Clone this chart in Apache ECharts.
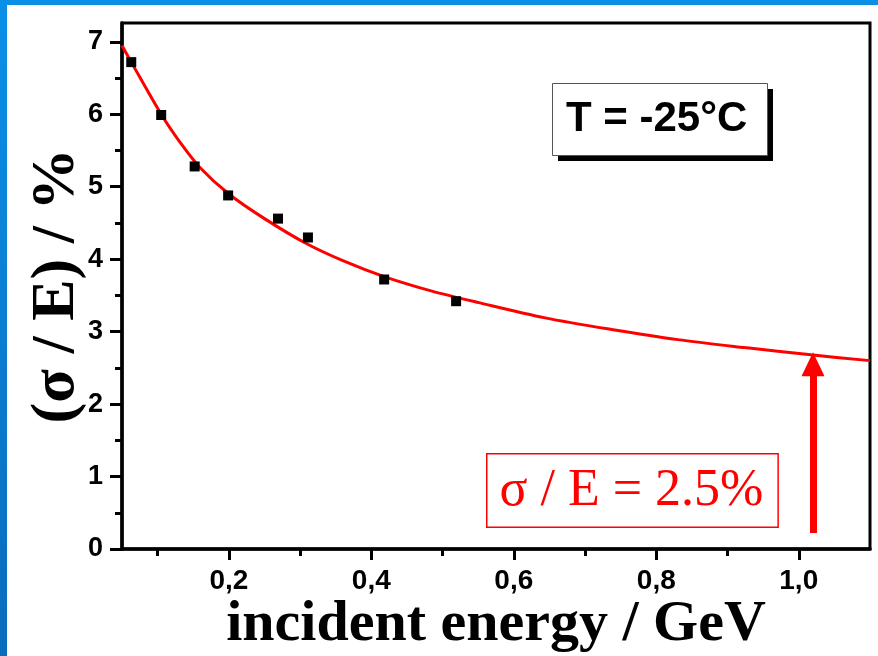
<!DOCTYPE html>
<html>
<head>
<meta charset="utf-8">
<title>Energy resolution vs incident energy</title>
<script src="https://cdn.jsdelivr.net/npm/echarts@6/dist/echarts.min.js"></script>
<style>
  html, body { margin: 0; padding: 0; background: #ffffff; }
  #chart { width: 878px; height: 656px; }
</style>
</head>
<body>
<div id="chart"></div>
<script>
// Measured resolution points (incident energy in GeV, sigma/E in %)
const energy = [0.063, 0.105, 0.152, 0.199, 0.269, 0.311, 0.418, 0.519];
const resolution = [6.72, 5.99, 5.28, 4.88, 4.56, 4.30, 3.72, 3.42];

// Fitted resolution curve, sampled along the energy axis
const fitEnergy = [0.05, 0.063, 0.105, 0.131, 0.159, 0.2, 0.25, 0.308, 0.36, 0.418, 0.485, 0.551, 0.644, 0.737, 0.83, 0.924, 1.017, 1.1];
const fitResolution = [6.95, 6.72, 6.00, 5.62, 5.27, 4.90, 4.56, 4.22, 3.98, 3.76, 3.56, 3.40, 3.19, 3.03, 2.89, 2.78, 2.68, 2.60];

// Axis ticks
const xMajorTicks = [0.2, 0.4, 0.6, 0.8, 1.0];
const xMinorTicks = [0.1, 0.3, 0.5, 0.7, 0.9];
const yMajorTicks = [0, 1, 2, 3, 4, 5, 6, 7];
const yMinorTicks = [0.5, 1.5, 2.5, 3.5, 4.5, 5.5, 6.5];

// Arrow marking the target resolution at 1 GeV
const arrowEnergy = 1.02;
const arrowFrom = 0.22;
const arrowTo = 2.55;

const xRange = [0.05, 1.1];
const yRange = [0, 7.26];

const chart = echarts.init(document.getElementById('chart'), null, { renderer: 'canvas' });

const sansBold = { fontFamily: 'Liberation Sans', fontWeight: 'bold', color: '#000' };

function pairs(xs, ys) { return xs.map((x, i) => [x, ys[i]]); }

const option = {
  backgroundColor: '#ffffff',
  animation: false,
  grid: {
    left: 122, top: 23, right: 8, bottom: 107,
    containLabel: false,
    outerBoundsMode: 'none',
    show: true, borderColor: '#000', borderWidth: 3, backgroundColor: 'transparent'
  },
  xAxis: [
    {
      type: 'value', min: xRange[0], max: xRange[1], position: 'bottom',
      name: 'incident energy / GeV', nameLocation: 'middle', nameGap: 47,
      nameMoveOverlap: false,
      nameTextStyle: { fontFamily: 'Liberation Serif', fontWeight: 'bold', fontSize: 58, color: '#000' },
      axisLine: { show: true, onZero: false, lineStyle: { color: '#000', width: 3.5 } },
      axisTick: { show: true, length: 11, lineStyle: { color: '#000', width: 3 }, customValues: xMajorTicks },
      axisLabel: {
        ...sansBold, fontSize: 28, margin: 18, customValues: xMajorTicks,
        formatter: v => v.toFixed(1).replace('.', ',')
      },
      splitLine: { show: false }
    },
    {
      type: 'value', min: xRange[0], max: xRange[1], position: 'bottom',
      axisLine: { show: false },
      axisTick: { show: true, length: 7, lineStyle: { color: '#000', width: 3 }, customValues: xMinorTicks },
      axisLabel: { show: false },
      splitLine: { show: false }
    }
  ],
  yAxis: [
    {
      type: 'value', min: yRange[0], max: yRange[1], position: 'left',
      name: '(σ / E) / %', nameLocation: 'middle', nameGap: 34, nameRotate: 90,
      nameMoveOverlap: false,
      nameTextStyle: { fontFamily: 'Liberation Serif', fontWeight: 'bold', fontSize: 62, color: '#000' },
      axisLine: { show: true, onZero: false, lineStyle: { color: '#000', width: 3.5 } },
      axisTick: { show: true, length: 12, lineStyle: { color: '#000', width: 3 }, customValues: yMajorTicks },
      axisLabel: { ...sansBold, fontSize: 27, margin: 19, customValues: yMajorTicks },
      splitLine: { show: false }
    },
    {
      type: 'value', min: yRange[0], max: yRange[1], position: 'left',
      axisLine: { show: false },
      axisTick: { show: true, length: 7, lineStyle: { color: '#000', width: 3 }, customValues: yMinorTicks },
      axisLabel: { show: false },
      splitLine: { show: false }
    }
  ],
  series: [
    {
      name: 'fit',
      type: 'line',
      xAxisIndex: 0, yAxisIndex: 0,
      data: pairs(fitEnergy, fitResolution),
      smooth: 0.3,
      showSymbol: false,
      lineStyle: { color: '#ff0000', width: 3 },
      silent: true,
      z: 3,
      markLine: {
        silent: true,
        symbol: ['none', 'triangle'],
        symbolSize: [23, 24],
        label: { show: false },
        lineStyle: { color: '#ff0000', width: 7, type: 'solid', opacity: 1 },
        itemStyle: { color: '#ff0000' },
        data: [[{ coord: [arrowEnergy, arrowFrom] }, { coord: [arrowEnergy, arrowTo] }]]
      }
    },
    {
      name: 'data',
      type: 'scatter',
      xAxisIndex: 0, yAxisIndex: 0,
      data: pairs(energy, resolution),
      symbol: 'rect',
      symbolSize: 10,
      itemStyle: { color: '#000', opacity: 1 },
      z: 4
    }
  ],
  graphic: [
    // blue slide frame, top and left edges
    {
      type: 'rect', left: 0, top: 0, z: 100,
      shape: { width: 878, height: 5 },
      style: { fill: '#0a8fe6' }
    },
    {
      type: 'rect', left: 0, top: 0, z: 100,
      shape: { width: 7, height: 656 },
      style: {
        fill: new echarts.graphic.LinearGradient(0, 0, 0, 1, [
          { offset: 0, color: '#0a90e8' },
          { offset: 1, color: '#0a6cbc' }
        ])
      }
    },
    // temperature box with drop shadow
    {
      type: 'rect', left: 558, top: 89, z: 50,
      shape: { width: 215, height: 72 },
      style: { fill: '#000' }
    },
    {
      type: 'rect', left: 552, top: 83, z: 51,
      shape: { width: 215, height: 72 },
      style: { fill: '#fff', stroke: '#555', lineWidth: 1 }
    },
    {
      type: 'text', left: 566, top: 98, z: 52,
      style: {
        text: 'T = -25°C',
        font: 'bold 42px "Liberation Sans"',
        fill: '#000'
      }
    },
    // target resolution label
    {
      type: 'text', left: 486, top: 453, z: 52,
      style: {
        text: 'σ / E = 2.5%',
        font: '52px "Liberation Serif"',
        fill: '#ff0000',
        backgroundColor: '#fff',
        borderColor: '#ff0000',
        borderWidth: 1.5,
        padding: [11, 14, 9, 12]
      }
    }
  ]
};

chart.setOption(option);
</script>
</body>
</html>
